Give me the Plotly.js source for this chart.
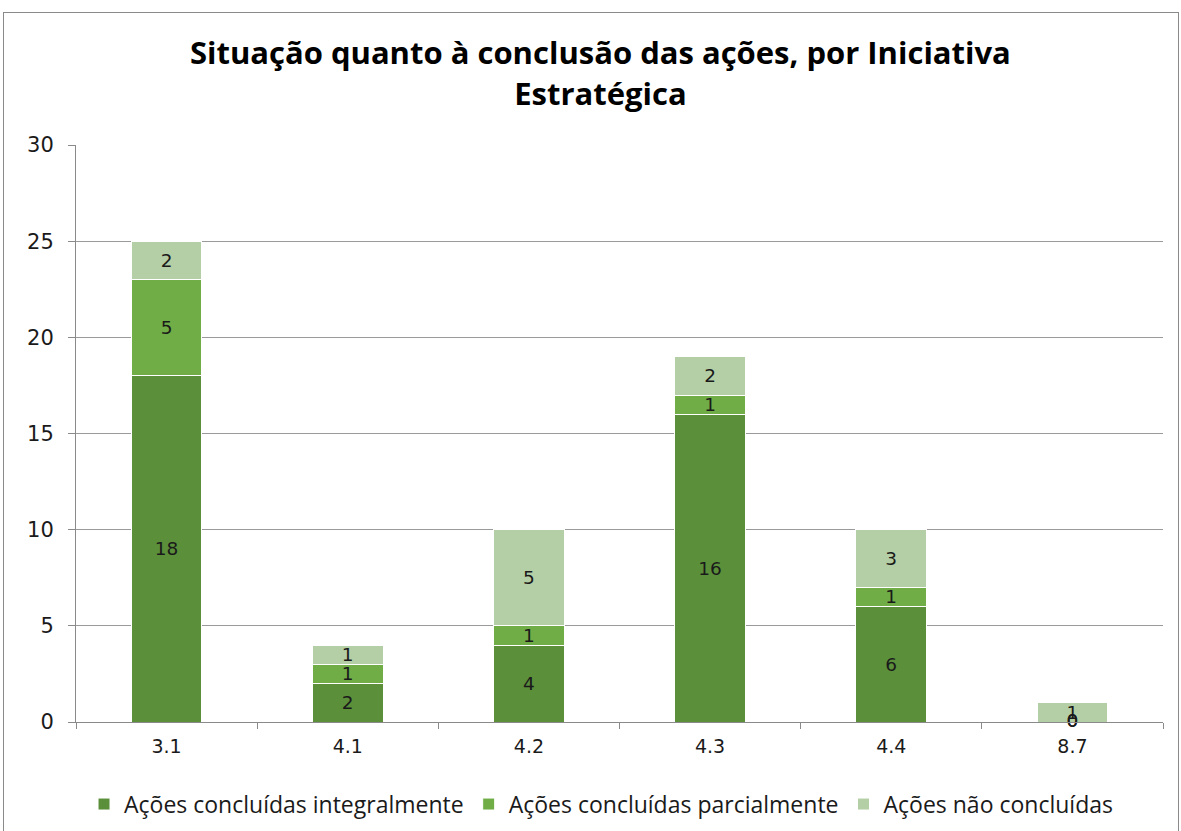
<!DOCTYPE html>
<html><head><meta charset="utf-8">
<script src="https://cdn.plot.ly/plotly-3.0.1.min.js"></script>
<style>
html,body{margin:0;padding:0;background:#fff;overflow:hidden;}
#chart{position:absolute;left:3px;top:12px;width:1174px;height:830px;border-left:1px solid #8a8a8a;border-top:1px solid #8a8a8a;border-right:1px solid #8a8a8a;}
</style></head><body>
<div id="chart"></div>
<script>
const categories = ["3.1","4.1","4.2","4.3","4.4","8.7"];
const integral = [18,2,4,16,6,0];
const parcial = [5,1,1,1,1,0];
const naoConcluidas = [2,1,5,2,3,1];
const seriesNames = ["Ações concluídas integralmente","Ações concluídas parcialmente","Ações não concluídas"];
const colors = ["#5b8f3a","#70ad47","#b4cfa5"];
const yTicks = [0,5,10,15,20,25,30];

const labelFont = {family:"DejaVu Sans, Verdana, sans-serif", size:18.5, color:"#1a1a1a"};
const allSeries = [integral, parcial, naoConcluidas];
const traces = allSeries.map((vals,i)=>({
  type:"bar", x:categories, y:vals, name:seriesNames[i],
  marker:{color:colors[i], line:{color:"#ffffff", width:1}},
  text:vals.map(v=>v===0?"":String(v)), textposition:"inside", insidetextanchor:"middle",
  textangle:0, textfont:labelFont, constraintext:"none", hoverinfo:"x+y+name"
}));
// zero labels drawn at the baseline
const zx=[], zy=[], zt=[];
allSeries.forEach(vals=>vals.forEach((v,j)=>{ if(v===0){zx.push(categories[j]); zy.push(0); zt.push("0");} }));
traces.push({type:"scatter", mode:"text", x:zx, y:zy, text:zt, textfont:labelFont, showlegend:false, hoverinfo:"skip", cliponaxis:false});

const layout = {
  width:1174, height:830,
  margin:{l:72, r:15, t:132, b:121},
  barmode:"stack", bargap:0.61,
  paper_bgcolor:"#ffffff", plot_bgcolor:"#ffffff",
  title:{text:"<b>Situação quanto à conclusão das ações, por Iniciativa<br>Estratégica</b>",
    font:{family:"Open Sans, sans-serif", size:31, color:"#000"},
    x:0.508, xanchor:"center", yref:"container", y:0.938, yanchor:"middle"},
  xaxis:{type:"category", tickson:"boundaries", ticks:"outside", ticklen:6, tickcolor:"#8a8a8a",
    showline:true, linecolor:"#8a8a8a", linewidth:1, showgrid:false, ticklabelstandoff:7,
    tickfont:{family:"DejaVu Sans, Verdana, sans-serif", size:19, color:"#1a1a1a"}},
  yaxis:{range:[0,30], tickvals:yTicks, ticks:"outside", ticklen:7, tickcolor:"#8a8a8a",
    showline:true, linecolor:"#8a8a8a", linewidth:1, gridcolor:"#9a9a9a", gridwidth:1, zeroline:false,
    tickfont:{family:"DejaVu Sans, Verdana, sans-serif", size:21, color:"#1a1a1a"}, ticklabelstandoff:10},
  legend:{orientation:"h", x:0.483, xanchor:"center", y:-0.105, yanchor:"top",
    font:{family:"Open Sans, sans-serif", size:23, color:"#1a1a1a"},
    itemwidth:30, traceorder:"normal"},
  showlegend:true
};
Plotly.newPlot("chart", traces, layout, {displayModeBar:false, staticPlot:true});
</script></body></html>
